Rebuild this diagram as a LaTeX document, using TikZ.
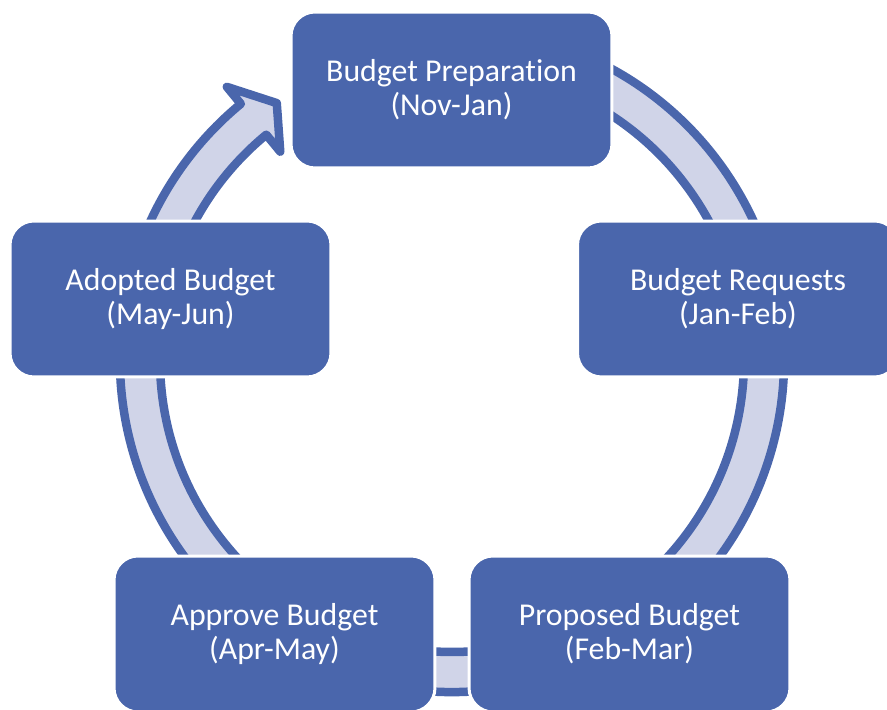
\documentclass[tikz,border=0pt]{standalone}
\usepackage{fontspec}
\setmainfont{Carlito}[Ligatures=NoCommon]
\definecolor{boxblue}{RGB}{74,102,172}
\definecolor{bandfill}{RGB}{208,212,232}

\begin{document}
\begin{tikzpicture}[x=0.02cm,y=0.02cm,
		stage/.style={fill=boxblue,draw=white,line width=0.06cm,rounded corners=0.48cm,
			minimum width=6.42cm,minimum height=3.12cm,text=white,align=center,
			font=\fontsize{18.1}{19.2}\selectfont},
		band/.style={draw=boxblue,fill=bandfill,line width=0.17cm,line join=round}]
		\path[use as bounding box,clip] (0,0) rectangle (887,710);
		% cycle arrow behind the boxes
		\begin{scope}[shift={(452,350)}]
			\draw[band] (70:332) arc[start angle=70,end angle=-230.5,radius=332]
				-- (129.5:354) -- (124.3:311) -- (129.5:270) -- (129.5:292)
				arc[start angle=-230.5,end angle=70,radius=292] -- cycle;
		\end{scope}
		\node[stage] (prep) at (451.5,620) {Budget Preparation\\(Nov-Jan)};
		\node[stage] (requests) at (738,411) {Budget Requests\\(Jan-Feb)};
		\node[stage] (proposed) at (629.5,76) {Proposed Budget\\(Feb-Mar)};
		\node[stage] (approve) at (274.5,76) {Approve Budget\\(Apr-May)};
		\node[stage] (adopted) at (170.5,411) {Adopted Budget\\(May-Jun)};
	\end{tikzpicture}
\end{document}
